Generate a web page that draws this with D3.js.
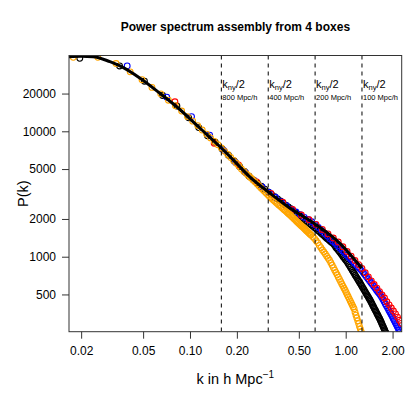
<!DOCTYPE html>
<html><head><meta charset="utf-8">
<script src="https://cdn.jsdelivr.net/npm/d3@7"></script>
<style>body{margin:0;background:#fff}svg{display:block;font-family:"Liberation Sans",Arial,sans-serif}</style>
</head><body>
<script>
// ---- data (k in h/Mpc, P(k)) ----
const kLine = [0.0167, 0.0200, 0.0238, 0.0306, 0.0355, 0.0478, 0.0641, 0.0822, 0.105, 0.134, 0.156, 0.190, 0.243, 0.327, 0.439, 0.635, 0.918, 1.268];
const pLine = [39400, 39600, 39400, 35900, 33200, 26500, 20100, 15700, 11900, 8950, 7530, 5890, 4315, 3206, 2432, 1824, 1279, 809];

const k800 = [0.0178, 0.0256, 0.0335, 0.0413, 0.0492, 0.0570, 0.0649, 0.0727, 0.0806, 0.0884, 0.0963, 0.1041, 0.1120, 0.1198, 0.1277, 0.1355, 0.1434, 0.1512, 0.1591, 0.1669, 0.1748, 0.1826, 0.1905, 0.1983, 0.2062, 0.2140, 0.2219, 0.2297, 0.2376, 0.2454, 0.2533, 0.2611, 0.2690, 0.2768, 0.2847, 0.2925, 0.3004, 0.3082, 0.3161, 0.3239, 0.3318, 0.3396, 0.3475, 0.3553, 0.3632, 0.3710, 0.3789, 0.3867, 0.3946, 0.4024, 0.4103, 0.4181, 0.4260, 0.4338, 0.4417, 0.4495, 0.4574, 0.4652, 0.4731, 0.4809, 0.4888, 0.4966, 0.5045, 0.5123, 0.5202, 0.5280, 0.5359, 0.5437, 0.5516, 0.5594, 0.5673, 0.5751, 0.5830, 0.5908, 0.5987, 0.6144, 0.6301, 0.6458, 0.6615, 0.6772, 0.6929, 0.7086, 0.7243, 0.7400, 0.7557, 0.7714, 0.7871, 0.8028, 0.8185, 0.8342, 0.8499, 0.8656, 0.8813, 0.8970, 0.9127, 0.9284, 0.9441, 0.9598, 0.9755, 0.9912, 1.0069, 1.0226, 1.0383, 1.0540, 1.0697, 1.0854, 1.1011, 1.1168, 1.1325, 1.1482, 1.1639, 1.1796, 1.1953, 1.2110, 1.2267, 1.2424, 1.2581, 1.2738, 1.2895];
const p800 = [38900, 38900, 34700, 29800, 25800, 22400, 19900, 17700, 16000, 14500, 13100, 12050, 11100, 10230, 9500, 8860, 8300, 7810, 7350, 6920, 6530, 6180, 5860, 5570, 5300, 5000, 4790, 4600, 4420, 4260, 4110, 3960, 3810, 3680, 3550, 3430, 3320, 3220, 3120, 3020, 2940, 2860, 2790, 2720, 2660, 2590, 2540, 2480, 2420, 2370, 2320, 2270, 2220, 2180, 2140, 2090, 2050, 2010, 1970, 1930, 1890, 1860, 1820, 1790, 1760, 1730, 1700, 1670, 1640, 1610, 1590, 1560, 1540, 1510, 1490, 1440, 1400, 1340, 1290, 1230, 1180, 1130, 1090, 1050, 1010, 971, 937, 896, 856, 817, 781, 748, 717, 687, 659, 632, 607, 583, 561, 540, 519, 498, 479, 461, 444, 428, 412, 397, 384, 361, 342, 325, 308, 293, 278, 265, 252, 240, 229];

const k400 = [0.0196, 0.0353, 0.0510, 0.0667, 0.0824, 0.0981, 0.1138, 0.1295, 0.1452, 0.1609, 0.1766, 0.1923, 0.2080, 0.2237, 0.2394, 0.2551, 0.2708, 0.2865, 0.3022, 0.3179, 0.3336, 0.3493, 0.3650, 0.3807, 0.3964, 0.4121, 0.4278, 0.4435, 0.4592, 0.4749, 0.4906, 0.5063, 0.5220, 0.5377, 0.5534, 0.5691, 0.5848, 0.6005, 0.6162, 0.6319, 0.6476, 0.6633, 0.6790, 0.6947, 0.7104, 0.7261, 0.7418, 0.7575, 0.7732, 0.7889, 0.8046, 0.8203, 0.8360, 0.8517, 0.8674, 0.8831, 0.8988, 0.9145, 0.9302, 0.9459, 0.9616, 0.9773, 0.9930, 1.0087, 1.0244, 1.0401, 1.0558, 1.0715, 1.0872, 1.1029, 1.1186, 1.1343, 1.1500, 1.1657, 1.1814, 1.1971, 1.2128, 1.2285, 1.2442, 1.2599, 1.2756, 1.2913, 1.3070, 1.3227, 1.3384, 1.3541, 1.3698, 1.3855, 1.4012, 1.4169, 1.4326, 1.4483, 1.4640, 1.4797, 1.4954, 1.5111, 1.5268, 1.5425, 1.5582, 1.5739, 1.5896, 1.6053, 1.6210, 1.6367, 1.6524, 1.6681, 1.6838, 1.6995, 1.7152, 1.7309, 1.7466, 1.7623, 1.7780, 1.7937, 1.8094, 1.8251];
const p400 = [38200, 33200, 25100, 19300, 15900, 12800, 10700, 9200, 8180, 7240, 6440, 5790, 5240, 4780, 4390, 4100, 3870, 3650, 3460, 3290, 3140, 3010, 2890, 2780, 2670, 2580, 2490, 2410, 2330, 2250, 2180, 2120, 2050, 1990, 1940, 1890, 1840, 1790, 1750, 1700, 1660, 1620, 1580, 1540, 1500, 1470, 1430, 1400, 1370, 1340, 1310, 1290, 1260, 1220, 1180, 1150, 1120, 1090, 1060, 1030, 1000, 976, 952, 927, 903, 875, 849, 824, 800, 777, 755, 734, 713, 694, 675, 658, 640, 624, 608, 592, 577, 562, 548, 534, 521, 508, 496, 485, 473, 462, 452, 440, 429, 418, 407, 397, 387, 378, 369, 360, 351, 343, 335, 327, 320, 312, 304, 296, 288, 281, 274, 267, 260, 254, 248, 242];

const k200 = [0.0395, 0.0709, 0.1023, 0.1337, 0.1651, 0.1965, 0.2279, 0.2593, 0.2907, 0.3221, 0.3535, 0.3849, 0.4163, 0.4477, 0.4791, 0.5105, 0.5419, 0.5733, 0.6047, 0.6361, 0.6675, 0.6989, 0.7303, 0.7617, 0.7931, 0.8245, 0.8559, 0.8873, 0.9187, 0.9501, 0.9815, 1.0129, 1.0443, 1.0757, 1.1071, 1.1385, 1.1699, 1.2013, 1.2327, 1.2641, 1.2955, 1.3269, 1.3583, 1.3897, 1.4211, 1.4525, 1.4839, 1.5153, 1.5467, 1.5781, 1.6095, 1.6409, 1.6723, 1.7037, 1.7351, 1.7665, 1.7979, 1.8293, 1.8607, 1.8921, 1.9235, 1.9549, 1.9863, 2.0177, 2.0491, 2.0805, 2.1119, 2.1433, 2.1747, 2.2061, 2.2375];
const p200 = [33200, 18700, 13100, 9330, 7020, 5630, 4670, 4040, 3600, 3250, 2980, 2750, 2550, 2390, 2270, 2160, 2060, 1980, 1900, 1800, 1710, 1620, 1540, 1460, 1390, 1330, 1280, 1220, 1170, 1120, 1080, 1030, 993, 955, 920, 888, 857, 828, 800, 775, 747, 719, 692, 666, 643, 620, 599, 579, 560, 541, 524, 508, 493, 475, 456, 438, 420, 404, 389, 374, 361, 348, 335, 322, 310, 299, 288, 278, 268, 259, 250];

const k100 = [0.080, 0.143, 0.205, 0.268, 0.331, 0.394, 0.456, 0.519, 0.582, 0.645, 0.708, 0.770, 0.833, 0.896, 0.959, 1.021, 1.084, 1.147, 1.210, 1.272, 1.335, 1.398, 1.461, 1.523, 1.586, 1.649, 1.712, 1.775, 1.837, 1.900, 1.963, 2.026, 2.088, 2.151, 2.214, 2.277];
const p100 = [17200, 8020, 5400, 3950, 3200, 2720, 2380, 2150, 1970, 1810, 1650, 1520, 1410, 1310, 1200, 1100, 1010, 933, 865, 805, 744, 690, 642, 600, 562, 527, 496, 468, 437, 413, 390, 369, 350, 330, 311, 294];

const kNyHalf = [0.159, 0.318, 0.636, 1.272];
const boxLabels = ["800 Mpc/h", "400 Mpc/h", "200 Mpc/h", "100 Mpc/h"];

const xTicks = [0.02, 0.05, 0.1, 0.2, 0.5, 1, 2];
const xTickLabels = ["0.02", "0.05", "0.10", "0.20", "0.50", "1.00", "2.00"];
const yTicks = [500, 1000, 2000, 5000, 10000, 20000];
const yTickLabels = ["500", "1000", "2000", "5000", "10000", "20000"];

const seriesOrder = [
  {k: k400, p: p400, color: "black"},
  {k: k200, p: p200, color: "blue"},
  {k: k100, p: p100, color: "red"},
  {k: k800, p: p800, color: "orange"}
];

// ---- layout ----
const L = 69, R = 401.7, T = 55.5, B = 331.7;
const x = d3.scaleLog().domain([0.01671, 2.289]).range([L, R]);
const y = d3.scaleLog().domain([252.3, 40230]).range([B, T]);

const svg = d3.select("body").append("svg").attr("width", 415).attr("height", 415);

svg.append("defs").append("clipPath").attr("id", "plotclip")
  .append("rect").attr("x", L).attr("y", T).attr("width", R - L).attr("height", B - T);

const plot = svg.append("g").attr("clip-path", "url(#plotclip)");

seriesOrder.forEach(s => {
  plot.append("g").selectAll("circle")
    .data(s.k.map((kv, i) => [kv, s.p[i]]))
    .join("circle")
    .attr("cx", d => x(d[0]))
    .attr("cy", d => y(d[1]))
    .attr("r", 2.9)
    .attr("fill", "none")
    .attr("stroke", s.color)
    .attr("stroke-width", 1.1);
});

plot.append("path")
  .datum(kLine.map((kv, i) => [kv, pLine[i]]))
  .attr("d", d3.line().x(d => x(d[0])).y(d => y(d[1])).curve(d3.curveMonotoneX))
  .attr("fill", "none").attr("stroke", "black").attr("stroke-width", 3);

// dashed k_ny/2 lines
plot.append("g").selectAll("line").data(kNyHalf).join("line")
  .attr("x1", d => x(d)).attr("x2", d => x(d))
  .attr("y1", T).attr("y2", B)
  .attr("stroke", "black").attr("stroke-width", 1).attr("stroke-dasharray", "4,4");

const ann = svg.append("g");
kNyHalf.forEach((kv, i) => {
  const t = ann.append("text").attr("x", x(kv) + 1).attr("y", 88).attr("font-size", 11);
  t.append("tspan").text("k");
  t.append("tspan").attr("font-size", 7.5).attr("dy", 2).text("ny");
  t.append("tspan").attr("dy", -2).text("/2");
  ann.append("text").attr("x", x(kv) + 1).attr("y", 99.5).attr("font-size", 7.5).text(boxLabels[i]);
});

// axes
const xAxis = svg.append("g").attr("transform", `translate(0,${B})`)
  .call(d3.axisBottom(x).tickValues(xTicks).tickFormat((d, i) => xTickLabels[i]).tickSize(7).tickPadding(8));
const yAxis = svg.append("g").attr("transform", `translate(${L},0)`)
  .call(d3.axisLeft(y).tickValues(yTicks).tickFormat((d, i) => yTickLabels[i]).tickSize(7).tickPadding(6));
[xAxis, yAxis].forEach(a => {
  a.select(".domain").remove();
  a.selectAll(".tick line").attr("stroke", "#333");
  a.selectAll("text").attr("font-size", 12).attr("fill", "black").attr("font-family", "Liberation Sans, Arial, sans-serif");
});

// box
svg.append("rect").attr("x", L).attr("y", T).attr("width", R - L).attr("height", B - T)
  .attr("fill", "none").attr("stroke", "#333").attr("stroke-width", 1);

// titles
svg.append("text").attr("x", (L + R) / 2).attr("y", 31).attr("text-anchor", "middle")
  .attr("font-size", 12).attr("font-weight", "bold").text("Power spectrum assembly from 4 boxes");

const xl = svg.append("text").attr("x", (L + R) / 2).attr("y", 384).attr("text-anchor", "middle").attr("font-size", 14.5);
xl.append("tspan").text("k in h Mpc");
xl.append("tspan").attr("dy", -6).attr("font-size", 10).text("\u22121");

svg.append("text").attr("transform", `translate(28,${(T + B) / 2}) rotate(-90)`)
  .attr("text-anchor", "middle").attr("font-size", 14.5).text("P(k)");
</script>
</body></html>
